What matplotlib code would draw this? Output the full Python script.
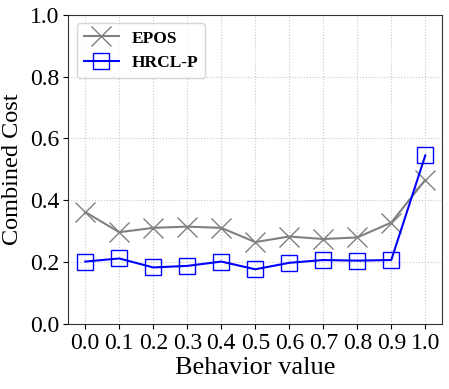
import numpy as np
import matplotlib

matplotlib.use("Agg")
import matplotlib.pyplot as plt

behavior = [0.0, 0.1, 0.2, 0.3, 0.4, 0.5, 0.6, 0.7, 0.8, 0.9, 1.0]
epos = [0.362, 0.297, 0.311, 0.315, 0.311, 0.265, 0.283, 0.275, 0.280, 0.328, 0.466]
hrcl_p = [0.202, 0.212, 0.183, 0.188, 0.202, 0.177, 0.198, 0.207, 0.205, 0.207, 0.545]

plt.rcParams["font.family"] = ["Liberation Serif", "DejaVu Serif"]

fig, axis = plt.subplots(figsize=(4.49, 3.89), dpi=100)
axis.plot(behavior, epos, color="gray", marker="x", markersize=14, markeredgewidth=1.0,
          linewidth=1.5, label="EPOS")
axis.plot(behavior, hrcl_p, color="blue", marker="s", markersize=12, markerfacecolor="none",
          markeredgewidth=1.0, linewidth=1.5, label="HRCL-P")

axis.set_xlim(-0.05, 1.05)
axis.set_ylim(0, 1.0)
axis.set_xticks(behavior)
axis.set_xticklabels([f"{v:.1f}" for v in behavior])
axis.set_yticks(np.arange(0, 1.01, 0.2))
axis.tick_params(labelsize=17, pad=3)
axis.set_xlabel("Behavior value", fontsize=19, labelpad=2)
axis.set_ylabel("Combined Cost", fontsize=17.5, labelpad=5)
axis.grid(True, linestyle=":", color="#c8c8c8", linewidth=0.8)
for spine in axis.spines.values():
    spine.set_color("#333333")
axis.legend(loc="upper left", prop={"weight": "bold", "size": 12.5}, handlelength=2.0,
            handletextpad=0.75)

fig.subplots_adjust(left=0.152, right=0.985, top=0.962, bottom=0.167)
fig.savefig("out.png")
plt.close(fig)
